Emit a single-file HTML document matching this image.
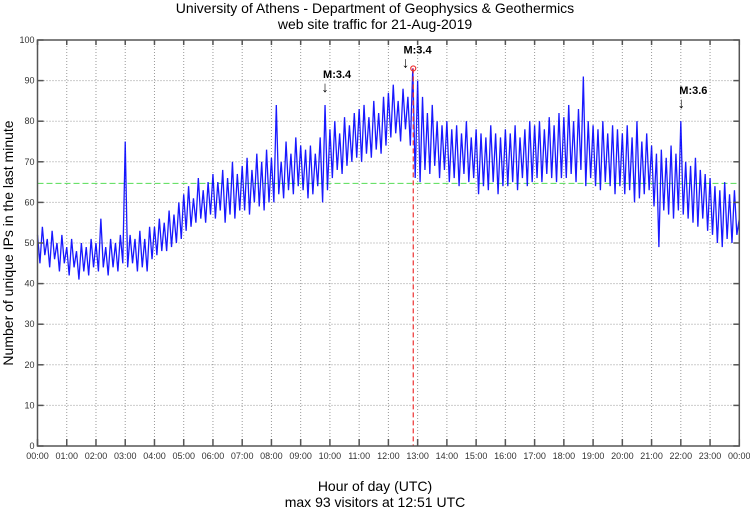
<!DOCTYPE html>
<html><head><meta charset="utf-8"><style>
body{margin:0;background:#fff;}
svg{display:block;font-family:"Liberation Sans",sans-serif;}
</style></head><body>
<svg id="chart" width="750" height="511" viewBox="0 0 750 511">
<text x="375" y="13" text-anchor="middle" font-size="14">University of Athens - Department of Geophysics &amp; Geothermics</text>
<text x="375" y="29" text-anchor="middle" font-size="14">web site traffic for 21-Aug-2019</text>
<text transform="translate(13,243) rotate(-90)" text-anchor="middle" font-size="14">Number of unique IPs in the last minute</text>
<text x="375" y="491" text-anchor="middle" font-size="14">Hour of day (UTC)</text>
<text x="375" y="507" text-anchor="middle" font-size="14">max 93 visitors at 12:51 UTC</text>
<g id="grid"></g>
<g id="series"></g>
<g id="axes"></g>
</svg>
<script>
const yTicks=[0,10,20,30,40,50,60,70,80,90,100];
const xTickLabels=["00:00","01:00","02:00","03:00","04:00","05:00","06:00","07:00","08:00","09:00","10:00","11:00","12:00","13:00","14:00","15:00","16:00","17:00","18:00","19:00","20:00","21:00","22:00","23:00","00:00"];
const visitors=[
52,45,54,47,51,44,53,46,50,43,52,45,
49,42,51,44,48,41,50,43,49,42,51,44,
50,43,56,44,49,42,51,44,50,43,52,45,
75,44,52,45,51,43,53,44,51,43,54,46,
54,47,56,48,55,48,58,49,57,50,60,51,
62,53,64,54,61,55,66,56,63,55,65,57,
67,56,65,58,68,55,66,57,70,56,67,58,
69,58,71,57,68,60,72,59,70,58,73,60,
71,60,84,62,70,61,75,63,72,62,76,64,
74,63,73,61,74,62,72,64,76,60,84,63,
78,66,80,68,77,67,81,69,79,70,82,71,
83,70,84,72,81,71,85,73,82,72,86,74,
87,76,89,77,85,75,88,78,86,74,93,66,
90,65,86,68,82,67,84,69,80,66,79,68,
80,65,78,66,79,64,77,67,80,65,76,66,
78,62,77,64,76,63,79,65,77,62,76,64,
78,64,77,65,79,63,76,66,78,64,80,65,
79,66,80,65,78,67,81,66,79,65,82,66,
81,66,84,67,80,65,83,68,91,64,80,66,
79,64,78,63,80,65,77,64,79,62,78,64,
77,62,79,63,76,60,80,61,75,62,77,63,
74,59,72,49,73,58,71,57,74,56,72,58,
80,57,70,56,69,55,71,54,68,56,67,53,
66,52,64,50,63,49,65,51,62,50,63,52,56];
const stepMinutes=5;
const meanLine=64.7;
const maxValue=93, maxMinute=12*60+51;
const quakeLabels=["M:3.4","M:3.4","M:3.6"];
const quakeMinutes=[9*60+50,12*60+35,22*60+1];
const quakeValues=[87,93,83];

const L=37.5,R=739.3,T=40,B=446;
const xs=m=>L+(R-L)*m/1440;
const ys=v=>B-(B-T)*v/100;
const NS="http://www.w3.org/2000/svg";
function mk(tag,attrs,parent){const e=document.createElementNS(NS,tag);for(const k in attrs)e.setAttribute(k,attrs[k]);parent.appendChild(e);return e;}
const grid=document.getElementById('grid'),ser=document.getElementById('series'),ax=document.getElementById('axes');
yTicks.forEach(v=>{
 if(v>0&&v<100){const g=mk('line',{x1:L,x2:R,y1:ys(v),y2:ys(v),stroke:'#999','stroke-width':1,'stroke-dasharray':'1,2'},grid);
 
 }
 const t=mk('line',{x1:L,x2:L+6,y1:ys(v),y2:ys(v),stroke:'#555','stroke-width':1.5},ax);
 
 
 const t2=mk('line',{x1:R-6,x2:R,y1:ys(v),y2:ys(v),stroke:'#555','stroke-width':1.5},ax);
 
 
 const lb=mk('text',{x:L-3,y:ys(v)+3,'text-anchor':'end','font-size':9,fill:'#333'},ax);
 lb.textContent=v;
 
 
});
xTickLabels.forEach((s,i)=>{
 const x=xs(i*60);
 if(i>0&&i<24){const g=mk('line',{x1:x,x2:x,y1:T,y2:B,stroke:'#999','stroke-width':1,'stroke-dasharray':'1,2'},grid);
 
 }
 const t=mk('line',{x1:x,x2:x,y1:B-7,y2:B,stroke:'#555','stroke-width':1.5},ax);
 
 
 const t2=mk('line',{x1:x,x2:x,y1:T,y2:T+5,stroke:'#555','stroke-width':1.5},ax);
 
 
 const lb=mk('text',{x:x,y:B+13,'text-anchor':'middle','font-size':9,fill:'#333'},ax);
 lb.textContent=s;
 
 
});
const frame=mk('rect',{x:L,y:T,width:R-L,height:B-T,fill:'none',stroke:'#555','stroke-width':1.5},ax);


const ml=mk('line',{x1:L,x2:R,y1:ys(meanLine),y2:ys(meanLine),stroke:'#5d5','stroke-width':1,'stroke-dasharray':'6,3'},ser);


const pts=visitors.map((v,i)=>xs(i*stepMinutes).toFixed(2)+','+ys(v).toFixed(2)).join(' ');
const pl=mk('polyline',{points:pts,fill:'none',stroke:'#0000ff','stroke-width':1.3,'stroke-opacity':0.9},ser);


const mx=mk('line',{x1:xs(maxMinute),x2:xs(maxMinute),y1:ys(maxValue),y2:B,stroke:'#e33','stroke-width':1.2,'stroke-dasharray':'5,3'},ser);


const mc=mk('circle',{cx:xs(maxMinute),cy:ys(maxValue),r:2.5,fill:'none',stroke:'#e33','stroke-width':1.2},ser);


quakeLabels.forEach((s,i)=>{
 const x=xs(quakeMinutes[i]),y=ys(quakeValues[i]);
 const a=mk('text',{x:x,y:y-1,'text-anchor':'middle','font-size':15,'font-weight':'bold'},ser);
 a.textContent='↓';
 
 
 const t=mk('text',{x:x-2,y:y-15,'font-size':11,'font-weight':'bold'},ser);
 t.textContent=s;
 
 
});
</script>
</body></html>
